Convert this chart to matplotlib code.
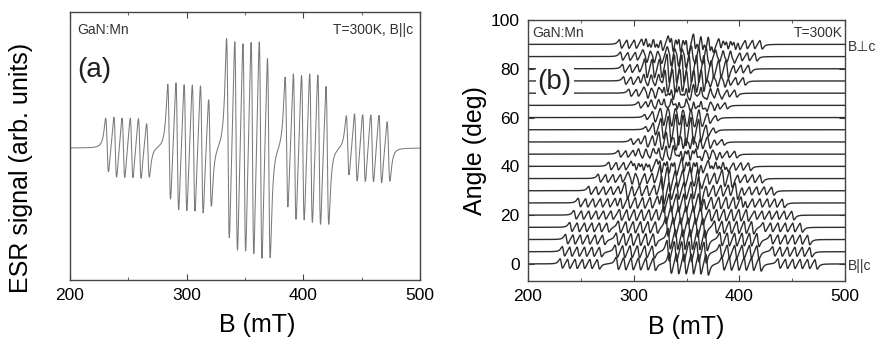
import numpy as np
import matplotlib.pyplot as plt
from matplotlib.ticker import MultipleLocator

plt.rcParams['font.family'] = ['Liberation Sans', 'DejaVu Sans']

# ---- (a) B||c spectrum ----
centres_a = [249.3, 302.5, 352.9, 403.1, 455.5]   # fine-structure group centres (mT)
amps_a = [[28, 32, 32, 32, 32, 28],
          [60, 68, 68, 68, 68, 56],
          [104, 112, 112, 114, 116, 104],
          [68, 78, 78, 80, 80, 72],
          [31, 36, 36, 36, 36, 31]]
hf = 7.0      # hyperfine splitting (mT)
width = 2.1   # line half width (mT)

# ---- (b) angular dependence: group centres for every trace ----
angles = [0, 5, 10, 15, 20, 25, 30, 35, 40, 45, 50, 55, 60, 65, 70, 75, 80, 85, 90]
centres_b = [[249, 302, 352, 402, 455],
             [251, 301, 350, 400, 450],
             [254, 302, 351, 400, 448],
             [258, 304, 349, 395, 441],
             [262, 305, 347, 390, 433],
             [266, 306, 345, 385, 424],
             [276, 310, 345, 380, 414],
             [285, 315, 344, 374, 403],
             [295, 319, 343, 368, 392],
             [304, 323, 342, 360, 379],
             [316, 329, 342, 354, 367],
             [359, 352, 345, 337, 330],
             [361, 353, 345, 337, 329],
             [370, 358, 347, 335, 323],
             [379, 363, 347, 330, 314],
             [387, 368, 348, 328, 309],
             [392, 371, 350, 329, 308],
             [398, 375, 352, 329, 306],
             [403, 378, 354, 330, 305]]
amps_b = [2.0, 2.6, 4.4, 2.8, 2.0]
scale_b = [1.0, 1.0, 1.0, 0.95, 0.9, 0.9, 0.85, 0.85, 0.8, 0.7, 0.6,
           0.55, 0.55, 0.65, 0.75, 0.8, 0.85, 0.85, 0.9]

B = np.linspace(200, 500, 3001)


def dlor(c, w):
    x = (B - c) / w
    return -x / (1 + x**2)**2 / 0.3248


def spectrum(centres, amps):
    y = np.zeros_like(B)
    for c, a in zip(centres, amps):
        a = np.broadcast_to(a, (6,))
        for k in range(6):
            y += a[k] * dlor(c + (k - 2.5) * hf, width)
    return y


fig = plt.figure(figsize=(8.77, 3.47), dpi=100)

# panel (a)
ax1 = fig.add_axes([0.0798, 0.1931, 0.3991, 0.7723])
ax1.plot(B, spectrum(centres_a, amps_a), color='#7a7a7a', lw=0.75)
ax1.set_xlim(200, 500)
ax1.set_ylim(-132, 136)
ax1.set_yticks([])
ax1.xaxis.set_major_locator(MultipleLocator(100))
ax1.xaxis.set_minor_locator(MultipleLocator(50))
ax1.set_xlabel('B (mT)', fontsize=18)
ax1.xaxis.set_label_coords(0.534, -0.125)
ax1.set_ylabel('ESR signal (arb. units)', fontsize=18)
ax1.yaxis.set_label_coords(-0.106, 0.42)
ax1.text(0.02, 0.933, 'GaN:Mn', transform=ax1.transAxes, fontsize=10, va='center', color='#333')
ax1.text(0.98, 0.933, 'T=300K, B||c', transform=ax1.transAxes, fontsize=10, va='center', ha='right', color='#333')
ax1.text(0.022, 0.784, '(a)', transform=ax1.transAxes, fontsize=20, va='center', color='#222')

# panel (b)
ax2 = fig.add_axes([0.6021, 0.1902, 0.3615, 0.7522])
for ang, cen, s in zip(angles, centres_b, scale_b):
    ax2.plot(B, ang + s * spectrum(cen, amps_b), color='#2e2e2e', lw=1.0)
ax2.set_xlim(200, 500)
ax2.set_ylim(-7, 100)
ax2.xaxis.set_major_locator(MultipleLocator(100))
ax2.xaxis.set_minor_locator(MultipleLocator(50))
ax2.yaxis.set_major_locator(MultipleLocator(20))
ax2.set_xlabel('B (mT)', fontsize=18)
ax2.xaxis.set_label_coords(0.5, -0.13)
ax2.set_ylabel('Angle (deg)', fontsize=18)
ax2.yaxis.set_label_coords(-0.13, 0.5)
ax2.text(0.0126, 0.95, 'GaN:Mn', transform=ax2.transAxes, fontsize=10, va='center', color='#333')
ax2.text(0.993, 0.95, 'T=300K', transform=ax2.transAxes, fontsize=10, va='center', ha='right', color='#333')
ax2.text(0.03, 0.762, '(b)', transform=ax2.transAxes, fontsize=20, va='center', color='#222',
         bbox=dict(facecolor='white', edgecolor='none', pad=1.5), zorder=5)
ax2.text(1.01, 89, 'B\u22a5c', transform=ax2.get_yaxis_transform(), fontsize=10, va='center', color='#333')
ax2.text(1.01, -1, 'B||c', transform=ax2.get_yaxis_transform(), fontsize=10, va='center', color='#333')

for ax in (ax1, ax2):
    ax.tick_params(which='both', direction='in', top=True, right=True, labelsize=12.5, pad=6, color='#444')
    ax.tick_params(which='major', length=4)
    ax.tick_params(which='minor', length=2.5)
    for s in ax.spines.values():
        s.set_color('#444')
        s.set_linewidth(1.0)

fig.savefig('out.png', dpi=100)
